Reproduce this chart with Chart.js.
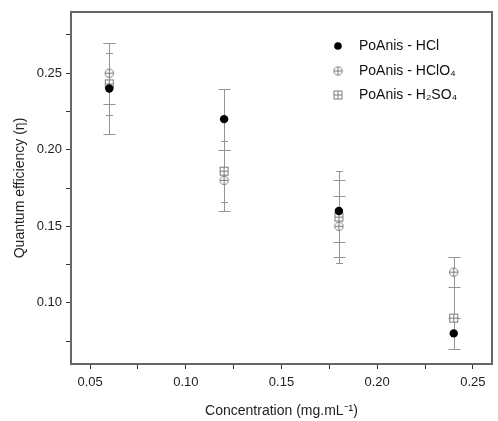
<!DOCTYPE html>
<html><head><meta charset="utf-8">
<script src="https://cdn.jsdelivr.net/npm/chart.js@4.4.0/dist/chart.umd.min.js"></script>
<style>html,body{margin:0;padding:0;background:#fff}#wrap{width:498px;height:421px}</style>
</head><body><div id="wrap"><canvas id="c" width="498" height="421"></canvas></div>
<script>
const concentrations = [0.06, 0.12, 0.18, 0.24];
const hclValues = [0.24, 0.22, 0.16, 0.08];
const hclErrors = [0.03, 0.02, 0.02, 0.01];
const hclo4Values = [0.25, 0.18, 0.15, 0.12];
const hclo4Errors = [0.02, 0.02, 0.02, 0.01];
const h2so4Values = [0.243, 0.186, 0.156, 0.09];
const h2so4Errors = [0.02, 0.02, 0.03, 0.02];
const seriesLabels = ['PoAnis - HCl', 'PoAnis - HClO₄', 'PoAnis - H₂SO₄'];
const xTickLabels = ['0.05', '0.10', '0.15', '0.20', '0.25'];
const yTickLabels = ['0.10', '0.15', '0.20', '0.25'];

const FONT = "'Liberation Sans', Arial, sans-serif";
const GREY = '#7a7a7a';

function makeMarker(kind) {
  const c = document.createElement('canvas');
  c.width = 11; c.height = 11;
  const g = c.getContext('2d');
  g.strokeStyle = GREY; g.lineWidth = 1; g.fillStyle = '#fff';
  if (kind === 'circle') {
    g.beginPath(); g.arc(5.5, 5.5, 4.2, 0, Math.PI * 2); g.fill(); g.stroke();
  } else {
    g.fillRect(1.5, 1.5, 8, 8); g.strokeRect(1.5, 1.5, 8, 8);
  }
  g.beginPath();
  g.moveTo(5.5, 1.5); g.lineTo(5.5, 9.5);
  g.moveTo(1.5, 5.5); g.lineTo(9.5, 5.5);
  g.stroke();
  return c;
}
const circlePlus = makeMarker('circle');
const squarePlus = makeMarker('square');

function pts(vals) { return concentrations.map((x, i) => ({x: x, y: vals[i]})); }

const errorBars = {
  id: 'errorBars',
  beforeDatasetsDraw(chart) {
    const {ctx, scales: {x, y}} = chart;
    ctx.save();
    ctx.strokeStyle = '#949494';
    ctx.lineWidth = 1;
    chart.data.datasets.forEach(ds => {
      ds.data.forEach((p, i) => {
        const e = ds.errors[i];
        const px = Math.round(x.getPixelForValue(p.x)) + 0.5;
        const top = Math.round(y.getPixelForValue(p.y + e)) + 0.5;
        const bot = Math.round(y.getPixelForValue(p.y - e)) + 0.5;
        const hw = ds.capHalf;
        ctx.beginPath();
        ctx.moveTo(px, top); ctx.lineTo(px, bot);
        ctx.moveTo(px - hw, top); ctx.lineTo(px + hw, top);
        ctx.moveTo(px - hw, bot); ctx.lineTo(px + hw, bot);
        ctx.stroke();
      });
    });
    ctx.restore();
  }
};

const frame = {
  id: 'frame',
  afterDraw(chart) {
    const {ctx, chartArea: a} = chart;
    ctx.save();
    ctx.strokeStyle = '#666';
    ctx.lineWidth = 2;
    ctx.strokeRect(a.left, a.top, a.right - a.left, a.bottom - a.top);
    ctx.restore();
    // legend
    ctx.save();
    ctx.font = '14px ' + FONT;
    ctx.fillStyle = '#111';
    ctx.textBaseline = 'middle';
    const rows = [46, 71, 95];
    chart.data.datasets.forEach((ds, i) => {
      const yy = rows[i];
      if (ds.pointStyle === 'circle') {
        ctx.beginPath(); ctx.arc(338, yy, 3.8, 0, Math.PI * 2); ctx.fillStyle = '#000'; ctx.fill();
      } else {
        ctx.drawImage(ds.pointStyle, 338 - 5.5, yy - 5.5);
      }
      ctx.fillStyle = '#111';
      ctx.fillText(ds.label, 359, yy);
    });
    ctx.restore();
  }
};

new Chart(document.getElementById('c'), {
  type: 'scatter',
  data: {
    datasets: [
      {label: seriesLabels[0], data: pts(hclValues), errors: hclErrors, capHalf: 6,
       pointStyle: 'circle', pointRadius: 4.2, backgroundColor: '#000', borderColor: '#000', borderWidth: 0, order: 1},
      {label: seriesLabels[1], data: pts(hclo4Values), errors: hclo4Errors, capHalf: 6,
       pointStyle: circlePlus, pointRadius: 5, order: 3},
      {label: seriesLabels[2], data: pts(h2so4Values), errors: h2so4Errors, capHalf: 3.5,
       pointStyle: squarePlus, pointRadius: 5, order: 2}
    ]
  },
  options: {
    responsive: false,
    animation: false,
    devicePixelRatio: 1,
    layout: {padding: {top: 12, right: 1, left: 0, bottom: 0}},
    plugins: {legend: {display: false}, tooltip: {enabled: false}},
    scales: {
      x: {
        type: 'linear', min: 0.04, max: 0.26,
        afterFit(s) { s.height = 57; },
        border: {display: false},
        grid: {drawOnChartArea: false, drawTicks: true, tickLength: 5, color: '#333', tickWidth: 1},
        ticks: {
          stepSize: 0.025, includeBounds: false, autoSkip: false, maxRotation: 0, padding: 6,
          color: '#222', font: {family: FONT, size: 13},
          callback: v => { const s = v.toFixed(2); return xTickLabels.includes(s) ? s : ''; }
        },
        title: {display: true, text: 'Concentration (mg.mL⁻¹)', color: '#222',
                font: {family: FONT, size: 14}, padding: {top: 0, bottom: 1}}
      },
      y: {
        type: 'linear', min: 0.06, max: 0.29,
        afterFit(s) { s.width = 71; },
        border: {display: false},
        grid: {drawOnChartArea: false, drawTicks: true, tickLength: 5, color: '#333', tickWidth: 1},
        ticks: {
          stepSize: 0.025, includeBounds: false, autoSkip: false, padding: 4,
          color: '#222', font: {family: FONT, size: 13},
          callback: v => { const s = v.toFixed(2); return yTickLabels.includes(s) ? s : ''; }
        },
        title: {display: true, text: 'Quantum efficiency (η)', color: '#222',
                font: {family: FONT, size: 14}, padding: {top: 12, bottom: 0}}
      }
    }
  },
  plugins: [errorBars, frame]
});
</script></body></html>
